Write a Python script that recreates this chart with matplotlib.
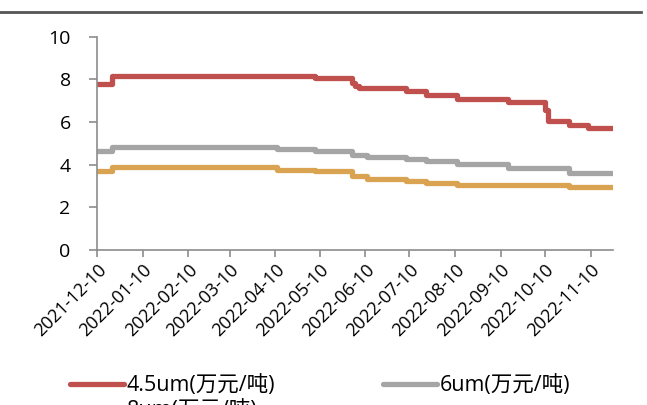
import matplotlib
matplotlib.use("Agg")
import matplotlib.pyplot as plt
import matplotlib.dates as mdates
from matplotlib.lines import Line2D
import pandas as pd

plt.rcParams["font.family"] = ["Open Sans", "Noto Sans CJK SC", "DejaVu Sans"]

# change points of each price series (万元/吨), last value holds until end date
end_date = "2022-11-25"

red_dates = ["2021-12-10", "2021-12-20", "2022-05-07", "2022-06-01", "2022-06-03",
             "2022-06-06", "2022-07-08", "2022-07-21", "2022-08-11", "2022-09-15",
             "2022-10-10", "2022-10-12", "2022-10-26", "2022-11-08"]
red_vals = [7.8, 8.15, 8.05, 7.85, 7.7, 7.6, 7.45, 7.25, 7.1, 6.95, 6.55, 6.05, 5.88, 5.71]

gray_dates = ["2021-12-10", "2021-12-20", "2022-04-11", "2022-05-07", "2022-06-01",
              "2022-06-11", "2022-07-08", "2022-07-21", "2022-08-11", "2022-09-15",
              "2022-10-26"]
gray_vals = [4.65, 4.84, 4.75, 4.66, 4.46, 4.38, 4.26, 4.15, 4.04, 3.83, 3.59]

orange_dates = ["2021-12-10", "2021-12-20", "2022-04-11", "2022-05-07", "2022-06-01",
                "2022-06-11", "2022-07-08", "2022-07-21", "2022-08-11", "2022-10-26"]
orange_vals = [3.68, 3.88, 3.77, 3.68, 3.47, 3.35, 3.24, 3.16, 3.06, 2.93]

labels = ["4.5um(万元/吨)", "6um(万元/吨)", "8um(万元/吨)"]
colors = ["#C0504D", "#A5A5A5", "#D9A352"]

tick_dates = pd.date_range("2021-12-01", "2022-11-01", freq="MS") + pd.Timedelta(days=9)


def series(dates, vals):
    d = list(pd.to_datetime(dates)) + [pd.Timestamp(end_date)]
    v = list(vals) + [vals[-1]]
    return d, v


fig = plt.figure(figsize=(6.47, 4.05), dpi=100)
ax = fig.add_axes([0.150, 0.383, 0.797, 0.526])

handles = []
for (dates, vals), label, color in zip(
    [(red_dates, red_vals), (gray_dates, gray_vals), (orange_dates, orange_vals)],
    labels, colors,
):
    d, v = series(dates, vals)
    (h,) = ax.plot(d, v, drawstyle="steps-post", color=color, linewidth=3.8,
                   solid_capstyle="round", solid_joinstyle="round", label=label)
    handles.append(h)

ax.set_xlim(pd.Timestamp("2021-12-10"), pd.Timestamp(end_date))
ax.set_ylim(0, 10)
ax.set_yticks(range(0, 11, 2))
ax.set_xticks(tick_dates)
ax.xaxis.set_major_formatter(mdates.DateFormatter("%Y-%m-%d"))

for side in ("top", "right"):
    ax.spines[side].set_visible(False)
for side in ("left", "bottom"):
    ax.spines[side].set_color("#8C8C8C")
    ax.spines[side].set_linewidth(1.2)
ax.tick_params(axis="both", colors="#8C8C8C", width=1.2, length=5, labelcolor="black")
ax.tick_params(axis="x", labelsize=13, pad=3)
ax.tick_params(axis="y", labelsize=14, pad=13, length=6)
for lbl in ax.get_xticklabels():
    lbl.set_rotation(45)
    lbl.set_ha("right")
    lbl.set_rotation_mode("anchor")

# legend rows: 4.5um / 6um on the first row, 8um below (cut by the figure edge)
leg = fig.legend([handles[0], handles[2], handles[1]],
                 [labels[0], labels[2], labels[1]],
                 ncol=2, frameon=False, fontsize=15.5,
                 loc="upper left", bbox_to_anchor=(0.078, 0.121),
                 handlelength=2.5, handletextpad=0.14, columnspacing=5.0,
                 labelspacing=0.15)

fig.add_artist(Line2D([0.0, 0.99], [0.97, 0.97], transform=fig.transFigure,
                      color="#555555", linewidth=2))

fig.savefig("out.png", dpi=100)
